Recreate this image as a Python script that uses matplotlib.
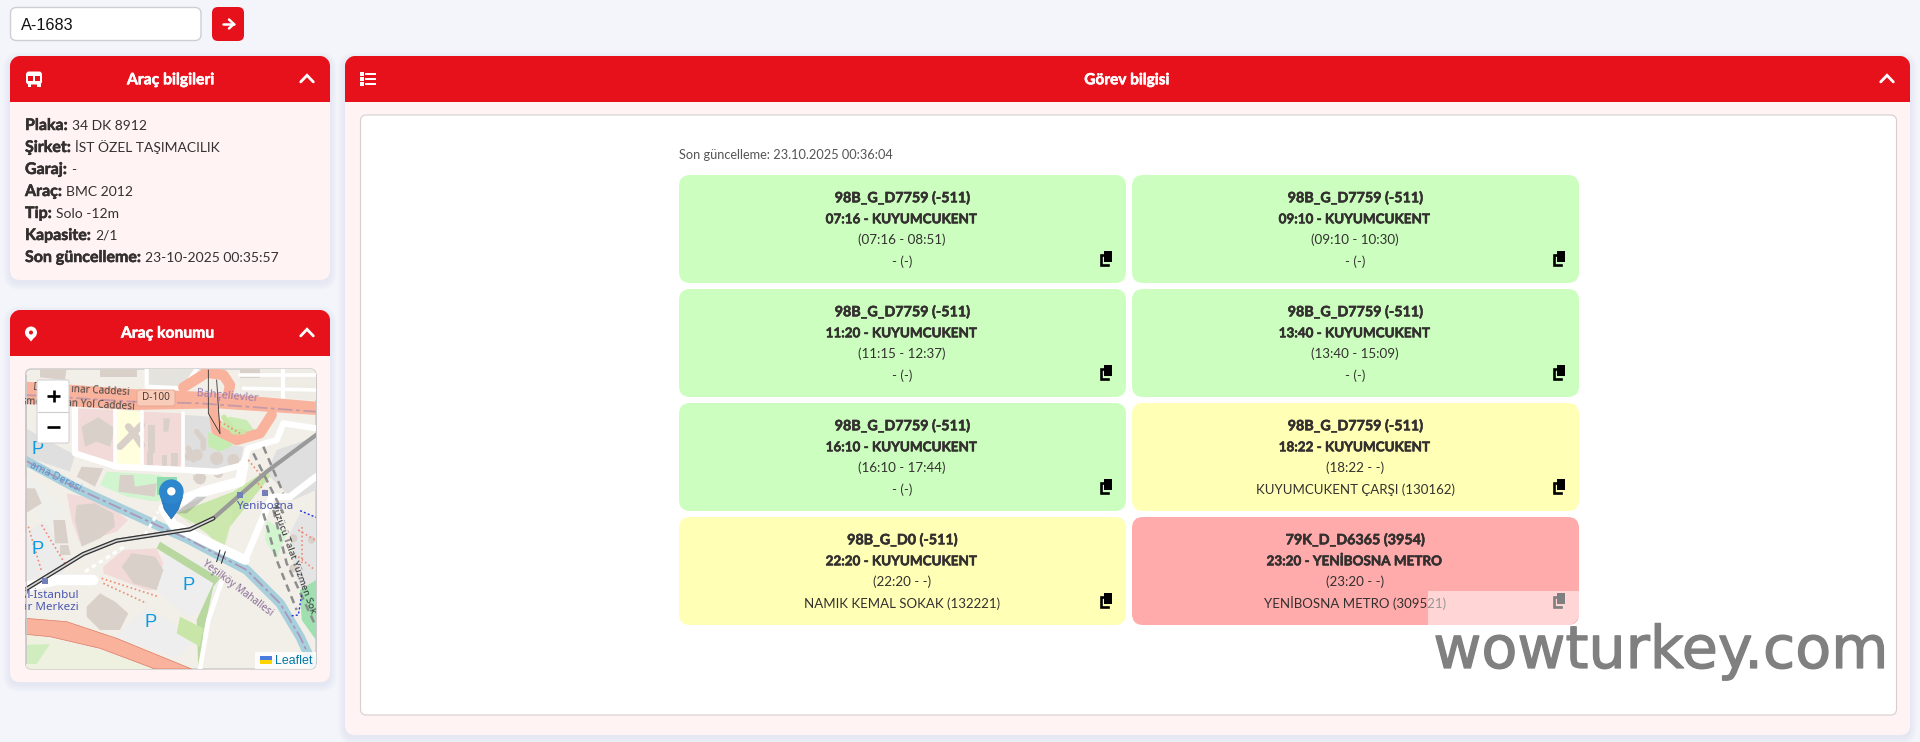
import matplotlib
matplotlib.use('Agg')
import matplotlib.pyplot as plt
import matplotlib.patheffects as pe
import numpy as np
from matplotlib.patches import FancyBboxPatch, Polygon, Rectangle, Circle
from matplotlib.path import Path
from matplotlib.patches import PathPatch

# page content
search_value = 'A-1683'
info_title = 'Araç bilgileri'
map_title = 'Araç konumu'
task_title = 'Görev bilgisi'
info_labels = ['Plaka:', 'Şirket:', 'Garaj:', 'Araç:', 'Tip:', 'Kapasite:', 'Son güncelleme:']
info_values = ['34 DK 8912', 'İST ÖZEL TAŞIMACILIK', '-', 'BMC 2012', 'Solo -12m', '2/1', '23-10-2025 00:35:57']
updated_text = 'Son güncelleme: 23.10.2025 00:36:04'

card_codes = ['98B_G_D7759 (-511)'] * 6 + ['98B_G_D0 (-511)', '79K_D_D6365 (3954)']
card_trips = ['07:16 - KUYUMCUKENT', '09:10 - KUYUMCUKENT', '11:20 - KUYUMCUKENT', '13:40 - KUYUMCUKENT',
              '16:10 - KUYUMCUKENT', '18:22 - KUYUMCUKENT', '22:20 - KUYUMCUKENT', '23:20 - YENİBOSNA METRO']
card_times = ['(07:16 - 08:51)', '(09:10 - 10:30)', '(11:15 - 12:37)', '(13:40 - 15:09)',
              '(16:10 - 17:44)', '(18:22 - -)', '(22:20 - -)', '(23:20 - -)']
card_stops = ['- (-)', '- (-)', '- (-)', '- (-)', '- (-)', 'KUYUMCUKENT ÇARŞI (130162)',
              'NAMIK KEMAL SOKAK (132221)', 'YENİBOSNA METRO (309521)']
card_status = ['done', 'done', 'done', 'done', 'done', 'wait', 'wait', 'late']
status_colors = {'done': '#ccffbf', 'wait': '#ffffb5', 'late': '#ffabab'}

RED = '#e6111b'
PANEL = '#fff4f3'
TEXT = '#33302f'
FONT = 'Lato'


def box(ax, x0, y0, x1, y1, r, fc, ec='none', lw=0, z=1, alpha=None):
    p = FancyBboxPatch((x0 + r, y0 + r), x1 - x0 - 2 * r, y1 - y0 - 2 * r,
                       boxstyle=f'round,pad={r},rounding_size={r}', fc=fc, ec=ec, lw=lw, zorder=z, alpha=alpha)
    ax.add_patch(p)
    return p


def top_round(ax, x0, y0, x1, y1, r, fc, z=2):
    k = 0.45 * r
    verts = [(x0, y1), (x0, y0 + r), (x0, y0 + k), (x0 + k, y0), (x0 + r, y0), (x1 - r, y0),
             (x1 - k, y0), (x1, y0 + k), (x1, y0 + r), (x1, y1), (x0, y1)]
    codes = [Path.MOVETO, Path.LINETO, Path.CURVE4, Path.CURVE4, Path.CURVE4, Path.LINETO,
             Path.CURVE4, Path.CURVE4, Path.CURVE4, Path.LINETO, Path.CLOSEPOLY]
    ax.add_patch(PathPatch(Path(verts, codes), fc=fc, ec='none', zorder=z))


def shadow(ax, x0, y0, x1, y1, r):
    for i in range(7, 0, -1):
        box(ax, x0 - i, y0 - i + 3, x1 + i, y1 + i + 3, r + i, '#8a90a8', z=0.5, alpha=0.012)


def chevron(ax, cx, cy):
    ax.plot([cx - 6.3, cx, cx + 6.3], [cy + 3.4, cy - 3.2, cy + 3.4], color='white', lw=2.0, zorder=5,
            solid_capstyle='round', solid_joinstyle='miter')


def copy_icon(ax, cx, cy, color='black', alpha=1.0, z=6):
    # two overlapping sheets
    ax.add_patch(Polygon([(cx - 2, cy - 7), (cx + 6, cy - 7), (cx + 6, cy + 4), (cx - 2, cy + 4)],
                         fc=color, ec='none', zorder=z, alpha=alpha))
    ax.plot([cx - 3.5, cx - 5.5, cx - 5.5, cx + 2], [cy - 3.5, cy - 3.5, cy + 7, cy + 7],
            color=color, lw=1.9, zorder=z, alpha=alpha, solid_joinstyle='miter')


def bold_text(ax, x, y, s, size, color=TEXT, ha='left', z=5):
    # Lato Bold is lighter than the page font, thicken it a little
    return ax.text(x, y, s, fontsize=size, family=FONT, weight='bold', color=color, ha=ha, va='baseline', zorder=z,
                   path_effects=[pe.withStroke(linewidth=0.4, foreground=color)])


fig = plt.figure(figsize=(19.2, 7.42), dpi=100, facecolor='#f3f5fa')
ax = fig.add_axes([0, 0, 1, 1])
ax.set_xlim(0, 1920)
ax.set_ylim(742, 0)
ax.axis('off')

# search row
box(ax, 10.5, 7.5, 201, 40.5, 6, 'white', '#cfcfd2', 1.0)
ax.text(21, 29.5, search_value, fontsize=11.7, family='Liberation Sans', color='#111111', va='baseline')
box(ax, 212, 7, 244, 41, 6, RED)
ax.plot([222.5, 233.5], [24, 24], color='white', lw=1.8, zorder=3, solid_capstyle='round')
ax.plot([229, 233.8, 229], [19.5, 24, 28.5], color='white', lw=1.8, zorder=3, solid_capstyle='round')

# left panel, vehicle info
shadow(ax, 10, 56, 330, 280, 10)
box(ax, 10, 56, 330, 280, 10, PANEL)
top_round(ax, 10, 56, 330, 102, 10, RED)
bold_text(ax, 171, 84.3, info_title, 11.3, 'white', ha='center')
chevron(ax, 307, 78.5)
# bus icon
box(ax, 26, 71.5, 42, 84.5, 3, 'white', z=5)
ax.add_patch(Rectangle((28.3, 75.5), 5, 5, fc=RED, zorder=6))
ax.add_patch(Rectangle((34.7, 75.5), 5, 5, fc=RED, zorder=6))
ax.add_patch(Rectangle((27.5, 84), 3.5, 3, fc='white', zorder=5))
ax.add_patch(Rectangle((37, 84), 3.5, 3, fc='white', zorder=5))

fig.canvas.draw()
renderer = fig.canvas.get_renderer()
for i, (lab, val) in enumerate(zip(info_labels, info_values)):
    y = 130 + i * 22
    t = bold_text(ax, 25, y, lab, 11.5)
    bb = t.get_window_extent(renderer)
    ax.text(bb.x1 + 4, y, val, fontsize=10, family=FONT, color=TEXT, va='baseline', zorder=5)

# left panel, map
shadow(ax, 10, 310, 330, 682, 10)
box(ax, 10, 310, 330, 682, 10, PANEL)
top_round(ax, 10, 310, 330, 356, 10, RED)
bold_text(ax, 168, 337.7, map_title, 11.3, 'white', ha='center')
chevron(ax, 307, 332.5)
# pin icon
ax.add_patch(Circle((31, 332.5), 6, fc='white', zorder=5))
ax.add_patch(Polygon([(25.6, 335), (36.4, 335), (31, 341.5)], fc='white', zorder=5))
ax.add_patch(Circle((31, 332.5), 2, fc=RED, zorder=6))

map_frame = box(ax, 25.5, 369, 316, 669, 6, '#f2efe9', '#c9c9c9', 1.0, z=2)


def mp(pts):
    return [(x / 3, 300 + y / 3) for x, y in pts]


def mpoly(pts, fc, z=3, ec='none', lw=0):
    p = Polygon(mp(pts), fc=fc, ec=ec, lw=lw, zorder=z)
    ax.add_patch(p)
    p.set_clip_path(map_frame)


def mline(pts, color, lw, z=3.2, **kw):
    a = np.array(mp(pts))
    for l in ax.plot(a[:, 0], a[:, 1], color=color, lw=lw, zorder=z, solid_capstyle=kw.pop('cap', 'round'), **kw):
        l.set_clip_path(map_frame)


def mtext(x, y, s, size, color, rot=0, weight='normal', z=4.5, family='Noto Sans'):
    ax.text(x / 3, 300 + y / 3, s, fontsize=size, color=color, rotation=rot, rotation_mode='anchor',
            weight=weight, ha='center', va='center', zorder=z, family=family)


BUILD = '#d9d0c9'
GREY = '#e0dfdf'
PINK = '#f2dad9'
GREEN = '#c8e6a8'
LGREEN = '#d0f5cf'
PARK = '#eeeeee'
ROAD = '#f9b29c'

# land use
mpoly([(225, 325), (350, 330), (345, 495), (230, 470)], PINK)
mpoly([(350, 330), (425, 335), (425, 500), (343, 495)], '#ffffdd')
mpoly([(430, 335), (550, 340), (550, 505), (430, 500)], PINK)
mpoly([(555, 345), (630, 350), (660, 430), (730, 440), (720, 500), (640, 520), (555, 515)], GREY)
mpoly([(77, 385), (225, 465), (210, 515), (77, 470)], GREY)
mpoly([(720, 207), (948, 207), (948, 300), (720, 285)], '#efece6')
mpoly([(440, 207), (600, 207), (550, 265), (440, 262)], '#e5e3dd')
mpoly([(830, 450), (948, 410), (948, 570), (880, 600), (800, 520)], GREY)
mpoly([(320, 515), (480, 525), (550, 565), (470, 605), (380, 590), (300, 555)], LGREEN)
mpoly([(470, 530), (530, 530), (530, 585), (470, 585)], '#8fdcb0')
mpoly([(200, 580), (300, 600), (385, 660), (350, 695), (240, 730), (215, 660)], PINK)
mpoly([(310, 800), (370, 750), (470, 745), (490, 790), (540, 870), (440, 870), (310, 820)], PINK)
mpoly([(77, 700), (135, 660), (205, 790), (180, 830), (77, 860)], '#ececec')
mpoly([(77, 530), (130, 560), (190, 620), (160, 700), (77, 600)], '#efefec')
mpoly([(500, 745), (605, 790), (660, 835), (620, 930), (560, 950), (470, 870)], PARK)
mpoly([(345, 1010), (440, 925), (590, 1010), (535, 1075)], PARK)
mpoly([(800, 660), (860, 700), (830, 775), (795, 720)], LGREEN)
mpoly([(870, 700), (900, 640), (948, 650), (948, 840), (905, 870), (880, 800)], '#e4e4e4')
mpoly([(900, 870), (948, 840), (948, 1020), (905, 960)], '#9fdfb0')
mpoly([(77, 1035), (150, 1032), (110, 1092), (77, 1092)], '#d0edc0')
mpoly([(77, 1000), (300, 1050), (460, 1107), (77, 1107)], '#eef0e0', z=2.8)
mpoly([(650, 380), (690, 350), (740, 360), (770, 400), (730, 420), (690, 415)], '#c8ecb4')
mpoly([(625, 395), (680, 420), (700, 435), (660, 455), (625, 440)], '#c5ecb0')

# green verge and water
mpoly([(530, 640), (700, 575), (800, 510), (810, 530), (690, 680), (600, 680)], GREEN)
mpoly([(530, 640), (570, 670), (600, 680), (700, 620), (690, 680), (670, 750), (620, 700)], '#cde8ae')
mpoly([(480, 725), (660, 835), (640, 860), (610, 1000), (605, 1107), (595, 1107), (590, 960), (640, 850), (470, 745)], '#b8d8a0')
mpoly([(540, 950), (610, 985), (600, 1040), (530, 1000)], GREEN)

# waterway
water = [(77, 482), (230, 565), (480, 680), (560, 715), (740, 810), (840, 910), (900, 1010), (945, 1107)]
mline(water, '#a8cfdc', 6.8)
mline(water, '#aa94b8', 1.2, z=3.3, linestyle=(0, (8, 2, 2, 2)))

# buildings
for b in [[(245, 500), (310, 505), (285, 560), (230, 530)],
          [(360, 525), (400, 525), (405, 560), (470, 550), (465, 590), (355, 575)],
          [(77, 565), (105, 565), (125, 610), (77, 640)],
          [(230, 615), (285, 610), (340, 640), (345, 680), (300, 715), (245, 740), (225, 660)],
          [(160, 660), (195, 660), (205, 730), (165, 730)],
          [(180, 735), (205, 735), (212, 765), (180, 765)],
          [(365, 800), (395, 760), (465, 770), (490, 810), (470, 870), (400, 850)],
          [(260, 920), (300, 880), (345, 905), (385, 940), (360, 990), (300, 990), (260, 950)],
          [(245, 380), (295, 352), (345, 385), (330, 440), (290, 425), (255, 440)],
          [(445, 375), (465, 375), (465, 460), (445, 460)],
          [(485, 465), (500, 465), (500, 500), (485, 500)],
          [(512, 460), (535, 460), (535, 500), (512, 500)],
          [(440, 455), (458, 455), (458, 500), (440, 500)],
          [(490, 355), (510, 355), (505, 395), (490, 395)],
          [(580, 525), (620, 530), (605, 545), (580, 540)],
          [(720, 207), (780, 207), (780, 235), (720, 235)],
          [(300, 207), (410, 207), (410, 232), (300, 232)],
          [(120, 207), (200, 207), (195, 240), (120, 232)]]:
    mpoly(b, BUILD, z=3.1)
for cx, cy, r in [(650, 475, 20), (590, 465, 18), (700, 480, 18), (600, 535, 18), (565, 470, 12),
                  (655, 520, 14), (880, 715, 12), (880, 805, 12), (935, 720, 11)]:
    c = Circle((cx / 3, 300 + cy / 3), r / 3, fc=BUILD, ec='none', zorder=3.1)
    ax.add_patch(c)
    c.set_clip_path(map_frame)
mline([(385, 380), (405, 405), (425, 435)], BUILD, 5, z=3.2)
mline([(425, 375), (385, 415), (360, 440)], BUILD, 5, z=3.2)
mline([(590, 395), (610, 420), (610, 445)], BUILD, 4, z=3.2)
mline([(565, 445), (580, 480)], BUILD, 4, z=3.2)

# white streets
for pts, w in [([(225, 325), (225, 460), (350, 500), (560, 510), (650, 515), (730, 495), (745, 445), (830, 420), (850, 370), (948, 385)], 4.5),
               ([(345, 330), (345, 495)], 2.6),
               ([(425, 335), (425, 500)], 2.6),
               ([(550, 340), (550, 505)], 2.6),
               ([(525, 610), (610, 575), (720, 545), (730, 495)], 7.5),
               ([(490, 625), (520, 675), (620, 725), (735, 780)], 7),
               ([(735, 780), (790, 650), (815, 590), (870, 590), (948, 530)], 4.8),
               ([(440, 207), (440, 260), (550, 265), (590, 207)], 3),
               ([(720, 225), (948, 225)], 2.6),
               ([(730, 265), (948, 270)], 2.6),
               ([(850, 207), (850, 300)], 3),
               ([(80, 860), (170, 840), (280, 840)], 7.5),
               ([(665, 845), (625, 960), (600, 1107)], 3.4)]:
    mline(pts, 'white', w, z=3.4)

# D-100 and the southern road
mpoly([(77, 245), (410, 268), (600, 275), (948, 305), (948, 345), (650, 325), (400, 330), (230, 320), (77, 312)], ROAD, z=3.5)
mpoly([(77, 955), (200, 965), (350, 1015), (575, 1107), (465, 1107), (300, 1045), (150, 1010), (77, 1003)], ROAD, z=3.5,
      ec='#dd7c62', lw=0.5)
mline([(77, 285), (400, 305), (600, 310), (948, 335)], '#c59aa8', 1.3, z=3.6, linestyle=(0, (8, 2, 2, 2)))
# interchange loop
mline([(550, 262), (620, 218), (670, 225), (690, 255), (680, 310)], ROAD, 7.5, z=3.5)
mline([(640, 330), (650, 390), (710, 420), (780, 400), (815, 345)], ROAD, 7.5, z=3.5)
mline([(625, 210), (625, 340), (660, 400)], '#333333', 0.6, z=3.7)
mline([(650, 240), (660, 400)], '#333333', 0.6, z=3.7)
mline([(672, 352), (700, 395), (730, 395)], GREEN, 4, z=3.6)

# rail
rail = [(77, 868), (250, 762), (350, 722), (570, 688), (640, 655), (800, 515), (948, 405)]
mline(rail, '#9a9a9a', 3.0, z=3.8)
mline(rail[:5], '#333333', 3.0, z=3.82)
mline(rail[:5], '#d8d8d8', 1.2, z=3.84)
# service paths, dashed
mline([(760, 460), (850, 640)], '#8d8d8d', 1.8, z=3.7, linestyle=(0, (3, 2)), cap='butt')
mline([(790, 440), (850, 580)], '#8d8d8d', 1.8, z=3.7, linestyle=(0, (3, 2)), cap='butt')
mline([(820, 630), (860, 790), (948, 980)], '#8d8d8d', 1.8, z=3.7, linestyle=(0, (3, 2)), cap='butt')
mline([(790, 640), (830, 780), (890, 930)], '#8d8d8d', 1.8, z=3.7, linestyle=(0, (3, 2)), cap='butt')
mline([(255, 815), (380, 735)], 'white', 2.2, z=3.7, linestyle=(0, (1.5, 1.2)), cap='butt')
mline([(435, 705), (475, 635)], 'white', 2.2, z=3.7, linestyle=(0, (1.5, 1.2)), cap='butt')
# parking dots, salmon
for pts in [[(125, 675), (200, 800)], [(85, 680), (125, 815)], [(305, 835), (475, 890)], [(310, 850), (440, 910)],
            [(745, 480), (790, 535)], [(765, 540), (800, 580)], [(660, 365), (720, 400)],
            [(895, 690), (945, 720)], [(895, 770), (945, 810)], [(905, 680), (905, 790)]]:
    mline(pts, '#f08a70', 1.2, z=3.75, linestyle=(0, (1, 1.6)), cap='butt')
mline([(900, 632), (948, 652)], '#2030e0', 1.0, z=3.8, linestyle=(0, (1.5, 1.5)), cap='butt')
mline([(905, 885), (895, 945), (870, 948)], '#2030e0', 1.0, z=3.8, linestyle=(0, (1.5, 1.5)), cap='butt')
mline([(650, 785), (660, 750)], '#222222', 0.7, z=3.8)
mline([(664, 790), (676, 755)], '#222222', 0.7, z=3.8)
for sx, sy in [(720, 585), (795, 578), (135, 843)]:
    mpoly([(sx - 9, sy - 9), (sx + 9, sy - 9), (sx + 9, sy + 9), (sx - 9, sy + 9)], '#7380b8', z=3.9)

# map labels
mtext(110, 262, 'D', 7.2, '#444444', rot=-3)
mtext(300, 272, 'ınar Caddesi', 7.2, '#444444', rot=-3)
mtext(95, 305, 'sme', 7.2, '#444444', rot=-3)
mtext(300, 315, 'an Yol Caddesi', 7.2, '#444444', rot=-3)
box(ax, 137, 390, 175, 406, 2, '#f9cbb9', '#e3a58e', 0.6, z=4.4)
mtext(468, 294, 'D-100', 7.2, '#4f3a33')
mtext(682, 290, 'Bahçelievler', 7.9, '#9a7cb0', rot=-5)
mtext(795, 620, 'Yenibosna', 8.4, '#4c57b0', weight='bold')
mtext(150, 887, 'M-İstanbul', 8.4, '#4c57b0', weight='bold')
mtext(150, 922, 'ar Merkezi', 8.4, '#4c57b0', weight='bold')
mtext(165, 530, 'ama Deresi', 7.6, '#5c93cc', rot=-26)
mtext(712, 865, 'Yeşilköy Mahallesi', 7.2, '#876a96', rot=-37)
mtext(880, 775, 'Yüzücü Talat Yüzmen Sok', 7.0, '#333333', rot=-70)
for px, py in [(112, 448), (112, 748), (565, 858), (453, 968)]:
    mtext(px, py, 'P', 13.2, '#0d9be0', family='Liberation Sans')

# agg does not clip text to a patch, so cover what runs off the map
ax.add_patch(Rectangle((11, 369), 14, 300, fc=PANEL, ec='none', zorder=4.52))
ax.add_patch(Rectangle((316.5, 369), 13, 300, fc=PANEL, ec='none', zorder=4.52))
ax.plot([25.5, 25.5], [375, 663], color='#c9c9c9', lw=0.7, zorder=4.53)
ax.plot([316, 316], [375, 663], color='#c9c9c9', lw=0.7, zorder=4.53)

# marker
ax.add_patch(Polygon(mp([(525, 640), (590, 590), (620, 590), (560, 640)]), fc='#666666', alpha=0.3, zorder=4.55, ec='none'))
pin_body = Polygon(mp([(482, 590), (493, 628), (514, 657), (535, 628), (548, 590)]), fc='#2a80c8', ec='#2068a8', lw=0.5, zorder=4.6)
ax.add_patch(pin_body)
ax.add_patch(Circle((514 / 3, 300 + 575 / 3), 12.3, fc='#2e86cd', ec='none', zorder=4.6))
ax.add_patch(Circle((514 / 3, 300 + 574 / 3), 4.2, fc='white', ec='none', zorder=4.7))

# zoom control
box(ax, 37, 380, 69, 443, 2, 'white', '#d4d4d4', 0.8, z=5)
ax.plot([38, 68], [411.5, 411.5], color='#cccccc', lw=0.8, zorder=5.1)
ax.plot([47.3, 59.7], [396, 396], color='black', lw=1.9, zorder=5.2, solid_capstyle='butt')
ax.plot([53.5, 53.5], [389.8, 402.2], color='black', lw=1.9, zorder=5.2, solid_capstyle='butt')
ax.plot([47.3, 59.7], [427, 427], color='black', lw=1.9, zorder=5.2, solid_capstyle='butt')

# attribution
att = Rectangle((255, 652), 61, 17, fc='white', ec='none', alpha=0.85, zorder=5)
ax.add_patch(att)
att.set_clip_path(map_frame)
ax.add_patch(Rectangle((260, 656), 12, 4, fc='#4c7be0', zorder=5.1))
ax.add_patch(Rectangle((260, 660), 12, 4, fc='#ffd500', zorder=5.1))
ax.text(274.5, 660.5, 'Leaflet', fontsize=8.9, family='Liberation Sans', color='#0078a8', va='center', zorder=5.2)

# right panel
shadow(ax, 345, 56, 1910, 735, 10)
box(ax, 345, 56, 1910, 735, 10, PANEL)
top_round(ax, 345, 56, 1910, 102, 10, RED)
bold_text(ax, 1127, 84.3, task_title, 11.1, 'white', ha='center')
chevron(ax, 1887, 78.5)
for row_y in [74, 79, 84]:
    ax.add_patch(Rectangle((360, row_y - 2), 4, 4, fc='white', zorder=5))
    ax.add_patch(Rectangle((365, row_y - 1), 11, 2, fc='white', zorder=5))
box(ax, 360.5, 115, 1896.5, 715, 6, 'white', '#d5cfcf', 0.8)

ax.text(679, 159.3, updated_text, fontsize=9.2, family=FONT, color='#555555', va='baseline', zorder=5)

# task cards, two columns
col_x = [679, 1132]
card_y = [175, 289, 403, 517]
card_w, card_h = 447, 108
for i, code in enumerate(card_codes):
    x0 = col_x[i % 2]
    y0 = card_y[i // 2]
    box(ax, x0, y0, x0 + card_w, y0 + card_h, 11, status_colors[card_status[i]], z=2)
    cx = x0 + card_w / 2 - 0.5
    bold_text(ax, cx, y0 + 27.3, code, 10.3, ha='center', z=4)
    bold_text(ax, cx, y0 + 48.3, card_trips[i], 9.7, ha='center', z=4)
    ax.text(cx, y0 + 69.3, card_times[i], fontsize=9.6, family=FONT, color=TEXT, ha='center', va='baseline', zorder=4)
    ax.text(cx, y0 + 90.5, card_stops[i], fontsize=9.5, family=FONT, color=TEXT, ha='center', va='baseline', zorder=4)
    copy_icon(ax, x0 + 427, y0 + 83)

# watermark strip and text
k = 11 * 0.45
verts = [(1428, 591), (1579, 591), (1579, 614), (1579, 614 + k), (1579 - k, 625), (1568, 625), (1428, 625), (1428, 591)]
codes = [Path.MOVETO, Path.LINETO, Path.LINETO, Path.CURVE4, Path.CURVE4, Path.CURVE4, Path.LINETO, Path.CLOSEPOLY]
ax.add_patch(PathPatch(Path(verts, codes), fc='white', ec='none', alpha=0.5, zorder=7))
ax.text(1661, 668, 'wowturkey.com', fontsize=42.3, family='DejaVu Sans', color='#808080', ha='center', va='baseline', zorder=8,
        path_effects=[pe.withStroke(linewidth=0.9, foreground='#808080')])

fig.savefig('out.png', dpi=100, facecolor=fig.get_facecolor())
